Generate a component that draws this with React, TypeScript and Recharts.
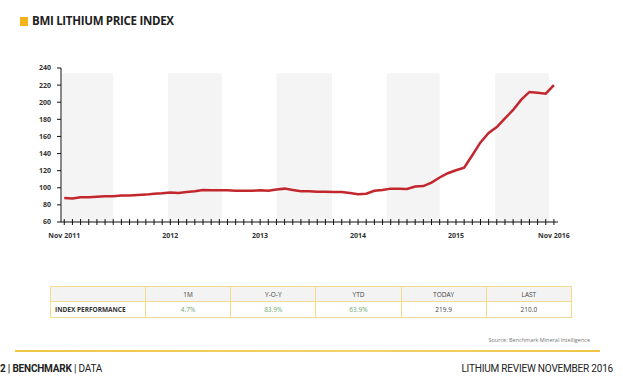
import React from 'react';
import { LineChart, Line, XAxis, YAxis, ReferenceArea } from 'recharts';

// monthly index, Nov 2011 (0) .. Nov 2016 (60)
const indexValues = [
  88, 87.5, 89, 89, 89.5, 90, 90, 91, 91, 91.5,
  92, 93, 93.5, 94.5, 94, 95, 96, 97.5, 97, 97,
  97, 96.5, 96.5, 96.5, 97, 96.5, 98, 99, 97.5, 96,
  96, 95.5, 95.5, 95, 95, 94, 92.5, 93, 96.5, 97.5,
  99, 99, 98.5, 101.5, 102, 106, 112, 117, 120.5, 123.5,
  138, 153, 164, 171, 181, 191, 203, 212, 211, 210,
  219.9,
];

const xLabels: Record<number, string> = {
  0: 'Nov 2011',
  13: '2012',
  24: '2013',
  36: '2014',
  48: '2015',
  60: 'Nov 2016',
};

const yTicks = [60, 80, 100, 120, 140, 160, 180, 200, 220, 240];

// shaded bands, in month positions
const bands = [
  [-0.25, 6],
  [12.7, 19.3],
  [26, 32.8],
  [39.5, 46],
  [52.8, 59.4],
];

const perfHeaders = ['1M', 'Y-O-Y', 'YTD', 'TODAY', 'LAST'];
const perfValues = ['4.7%', '83.9%', '63.9%', '219.9', '210.0'];
const perfGreen = [true, true, true, false, false];

const data = indexValues.map((v, i) => ({ m: i, value: v }));
const monthTicks = data.map((d) => d.m);

const font = '"Open Sans", sans-serif';

const XTick = (props: any) => {
  const { x, y, payload } = props;
  const label = xLabels[payload.value];
  return (
    <g>
      <line x1={x} x2={x} y1={y - 3} y2={y + 3} stroke="#111" strokeWidth={1} />
      {label && (
        <text x={x} y={y + 16} textAnchor="middle" fontSize={7} fontWeight={700} fill="#333" fontFamily={font}>
          {label}
        </text>
      )}
    </g>
  );
};

const cell: React.CSSProperties = {
  border: '1px solid #f1dc8c',
  textAlign: 'center',
  padding: 0,
  height: 14,
};

export default function App() {
  return (
    <div style={{ position: 'absolute', left: 0, top: 0, width: 623, height: 378, background: '#fff', fontFamily: font, overflow: 'hidden' }}>
      <div style={{ position: 'absolute', left: 20, top: 17, width: 8, height: 9, background: '#f4b21b' }} />
      <div style={{ position: 'absolute', left: 32, top: 13, fontSize: 11.5, fontWeight: 700, color: '#222', letterSpacing: -0.3, fontFamily: font }}>
        BMI LITHIUM PRICE INDEX
      </div>

      <div style={{ position: 'absolute', left: 0, top: 0 }}>
        <LineChart width={623} height={250} data={data} margin={{ top: 68, right: 65, left: 31, bottom: 8 }}>
          {bands.map((b, i) => (
            <ReferenceArea key={i} x1={b[0]} x2={b[1]} y1={60} y2={234} fill="#f4f4f4" fillOpacity={1} stroke="none" ifOverflow="visible" />
          ))}
          <XAxis
            dataKey="m"
            type="number"
            domain={[-0.4, 60.5]}
            ticks={monthTicks}
            interval={0}
            tickSize={0}
            tickMargin={0}
            tickLine={false}
            tick={<XTick />}
            axisLine={{ stroke: '#111', strokeWidth: 1 }}
            height={20}
          />
          <YAxis
            domain={[60, 240]}
            ticks={yTicks}
            width={30}
            tickSize={4}
            tickMargin={6}
            axisLine={{ stroke: '#111', strokeWidth: 1 }}
            tickLine={{ stroke: '#111' }}
            tick={{ fontSize: 7, fontWeight: 700, fill: '#333', fontFamily: font }}
            interval={0}
          />
          <Line type="linear" dataKey="value" stroke="#c1272d" strokeWidth={2.5} dot={false} isAnimationActive={false} />
        </LineChart>
      </div>

      <table style={{ position: 'absolute', left: 50, top: 286, width: 522, borderCollapse: 'collapse', fontSize: 6.5, fontFamily: font, tableLayout: 'fixed' }}>
        <colgroup>
          <col style={{ width: 95 }} />
          {perfHeaders.map((h) => (
            <col key={h} />
          ))}
        </colgroup>
        <tbody>
          <tr style={{ background: '#f3f3f3' }}>
            <td style={cell}></td>
            {perfHeaders.map((h) => (
              <td key={h} style={{ ...cell, color: '#444' }}>{h}</td>
            ))}
          </tr>
          <tr>
            <td style={{ ...cell, textAlign: 'left', paddingLeft: 4, fontWeight: 700, color: '#333', height: 15 }}>INDEX PERFORMANCE</td>
            {perfValues.map((v, i) => (
              <td key={i} style={{ ...cell, color: perfGreen[i] ? '#6aa964' : '#444', height: 15 }}>{v}</td>
            ))}
          </tr>
        </tbody>
      </table>

      <div style={{ position: 'absolute', right: 33, top: 336, fontSize: 5.5, color: '#777', fontFamily: font }}>
        Source: Benchmark Mineral Intelligence
      </div>
      <div style={{ position: 'absolute', left: 15, top: 350, width: 585, height: 2, background: 'linear-gradient(90deg, #efc543, #f3d36a 60%, #efc543)' }} />
      <div style={{ position: 'absolute', left: 0, top: 363, fontSize: 10, color: '#222', fontFamily: 'Roboto, sans-serif', letterSpacing: -0.2 }}>
        <b>2 | BENCHMARK</b> | DATA
      </div>
      <div style={{ position: 'absolute', right: 10, top: 363, fontSize: 10, color: '#222', fontFamily: 'Roboto, sans-serif', letterSpacing: -0.2 }}>
        LITHIUM REVIEW NOVEMBER 2016
      </div>
    </div>
  );
}
